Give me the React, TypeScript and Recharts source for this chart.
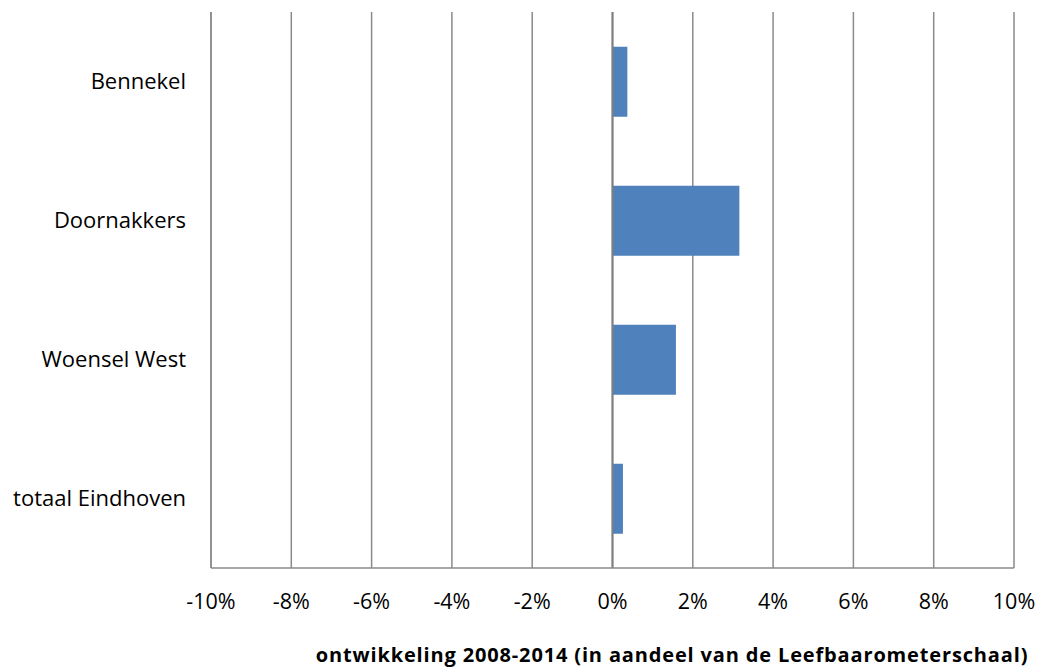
import { BarChart, Bar, XAxis, YAxis, CartesianGrid, ReferenceLine, Label } from "recharts";

// Wijken en ontwikkeling in % (aandeel van de Leefbaarometerschaal)
const wijken = ["Bennekel", "Doornakkers", "Woensel West", "totaal Eindhoven"];
const ontwikkeling = [0.37, 3.16, 1.58, 0.26];
const xTicks = [-10, -8, -6, -4, -2, 0, 2, 4, 6, 8, 10];
const axisTitle = "ontwikkeling 2008-2014 (in aandeel van de Leefbaarometerschaal)";

const data = wijken.map((naam, i) => ({ naam, waarde: ontwikkeling[i] }));

const font = "'Open Sans', Lato, sans-serif";

export default function App() {
  return (
    <div style={{ position: "absolute", left: 0, top: 0, width: 1040, height: 668, background: "#fff" }}>
      <BarChart
        width={1040}
        height={668}
        data={data}
        layout="vertical"
        barCategoryGap="25%"
        margin={{ top: 12, right: 26, left: 0, bottom: 40 }}
      >
        <CartesianGrid horizontal={false} stroke="#8a8a8a" strokeWidth={1.5} />
        <XAxis
          type="number"
          domain={[-10, 10]}
          ticks={xTicks}
          tickFormatter={(v) => `${v}%`}
          axisLine={{ stroke: "#8a8a8a", strokeWidth: 1.5 }}
          tickLine={false}
          tickSize={0}
          tickMargin={26}
          height={60}
          tick={{ fill: "#000", fontSize: 21.5, fontFamily: font }}
        >
          <Label
            content={() => (
              <text
                x={672}
                y={662}
                textAnchor="middle"
                fill="#000"
                fontSize={20}
                fontWeight="bold"
                letterSpacing={0.85}
                fontFamily={font}
              >
                {axisTitle}
              </text>
            )}
          />
        </XAxis>
        <YAxis
          type="category"
          dataKey="naam"
          width={211}
          axisLine={{ stroke: "#8a8a8a", strokeWidth: 1.5 }}
          tickLine={false}
          tickSize={0}
          tickMargin={25}
          tick={{ fill: "#000", fontSize: 22, fontFamily: font }}
        />
        <ReferenceLine x={0} stroke="#7f7f7f" strokeWidth={2} />
        <Bar dataKey="waarde" fill="#4f81bd" isAnimationActive={false} />
      </BarChart>
    </div>
  );
}
